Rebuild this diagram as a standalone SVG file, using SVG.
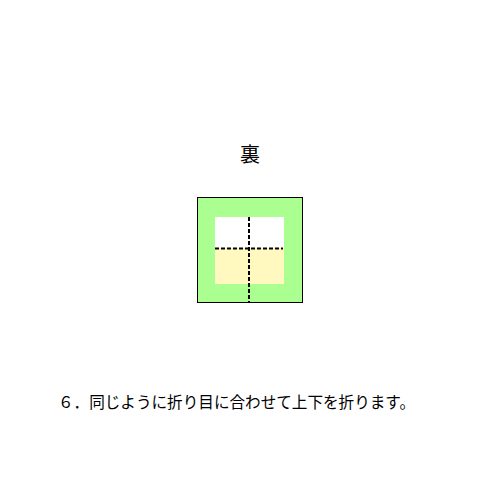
<svg xmlns="http://www.w3.org/2000/svg" width="500" height="500" viewBox="0 0 500 500">
<style>
text{font-family:"Noto Sans CJK JP","Noto Sans CJK SC",sans-serif;fill:#000}
.fold{stroke:#000;stroke-width:2;stroke-dasharray:4,2;fill:none}
</style>
<rect width="500" height="500" fill="#fff"/>
<g id="title"><text x="250" y="162" font-size="20" text-anchor="middle">裏</text></g>
<g id="paper">
<rect x="197.5" y="197.5" width="105" height="105" fill="#aaff90" stroke="#000" stroke-width="1"/>
<rect x="215" y="217" width="69" height="31" fill="#fff"/>
<rect x="215" y="248" width="69" height="36" fill="#fff9c0"/>
</g>
<g id="connectors">
<line class="fold" x1="215" y1="248.5" x2="283" y2="248.5"/>
<line class="fold" x1="249" y1="217" x2="249" y2="303"/>
</g>
<g id="caption"><text x="58" y="408" font-size="16" textLength="357" lengthAdjust="spacingAndGlyphs">６．同じように折り目に合わせて上下を折ります。</text></g>
</svg>
